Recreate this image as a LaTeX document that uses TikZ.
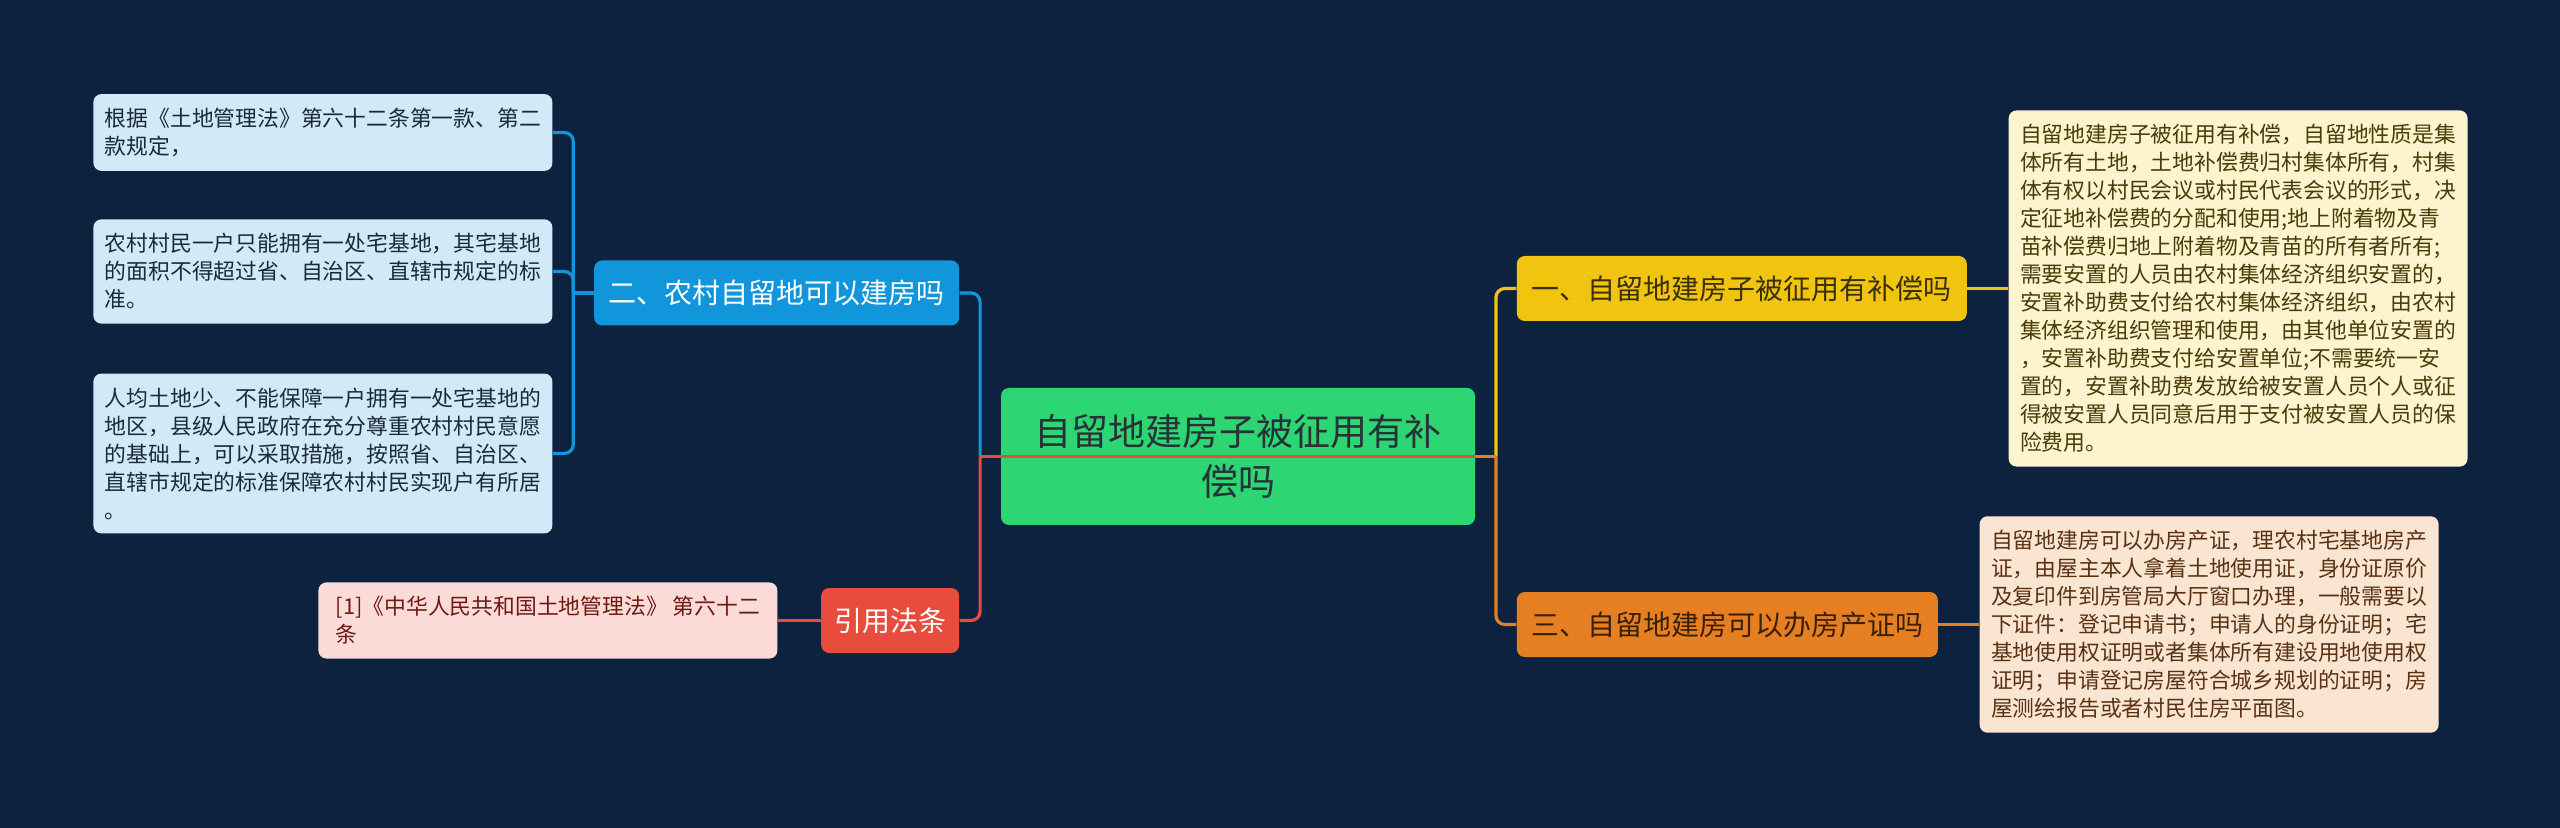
\documentclass[tikz,border=0pt]{standalone}
\usepackage{fontspec}
\newfontfamily\cjk{Noto Sans CJK SC}
\usetikzlibrary{positioning}

\definecolor{bgnavy}{HTML}{0D223F}
\definecolor{rootgreen}{HTML}{2ED573}
\definecolor{roottext}{HTML}{263238}
\definecolor{topicblue}{HTML}{1296DB}
\definecolor{leafblue}{HTML}{D0EAF8}
\definecolor{leafbluetext}{HTML}{1B2A38}
\definecolor{topicred}{HTML}{E74C3C}
\definecolor{leafred}{HTML}{FADBD8}
\definecolor{leafredtext}{HTML}{6E1A12}
\definecolor{topicyellow}{HTML}{F1C40F}
\definecolor{topicyellowtext}{HTML}{3B2F05}
\definecolor{leafyellow}{HTML}{FCF3CF}
\definecolor{leafyellowtext}{HTML}{4A3B08}
\definecolor{topicorange}{HTML}{E67E22}
\definecolor{topicorangetext}{HTML}{3A2105}
\definecolor{leaforange}{HTML}{FAE5D3}
\definecolor{leaforangetext}{HTML}{5A3212}

\begin{document}
\begin{tikzpicture}[
    root/.style={fill=rootgreen, text=roottext, rounded corners=4pt, align=center,
        minimum width=237pt, minimum height=68.5pt, inner sep=0pt,
        font=\cjk\fontsize{18.5pt}{25pt}\selectfont},
    topic/.style={rounded corners=4pt, minimum height=32.5pt, inner sep=0pt,
        font=\cjk\fontsize{14pt}{16pt}\selectfont},
    leaf/.style={rounded corners=4pt, align=left, inner xsep=5.5pt, inner ysep=7pt,
        minimum width=229.5pt, font=\cjk\fontsize{10.9pt}{14pt}\selectfont},
    link/.style={line width=1.6pt, rounded corners=4.5pt},
    node distance=20.5pt
]
\fill[bgnavy] (0,0) rectangle (1280pt,-414pt);
\useasboundingbox (0,0) rectangle (1280pt,-414pt);

\node[root] (central) at (619pt,-228.25pt) {自留地建房子被征用有补\\偿吗};

\node[topic, fill=topicyellow, text=topicyellowtext, minimum width=225pt,
    right=of central, yshift=84pt] (q1) {一、自留地建房子被征用有补偿吗};
\node[topic, fill=topicblue, text=white, minimum width=182.5pt,
    left=of central, yshift=81.75pt] (q2) {二、农村自留地可以建房吗};
\node[topic, fill=topicorange, text=topicorangetext, minimum width=210.5pt,
    right=of central, yshift=-84pt, anchor=west] (q3) {三、自留地建房可以办房产证吗};
\node[topic, fill=topicred, text=white, minimum width=69pt,
    left=of central, yshift=-82pt] (law) {引用法条};

\node[leaf, fill=leafyellow, text=leafyellowtext, right=of q1] (d1)
    {自留地建房子被征用有补偿，自留地性质是集\\体所有土地，土地补偿费归村集体所有，村集\\体有权以村民会议或村民代表会议的形式，决\\定征地补偿费的分配和使用;地上附着物及青\\苗补偿费归地上附着物及青苗的所有者所有;\\需要安置的人员由农村集体经济组织安置的，\\安置补助费支付给农村集体经济组织，由农村\\集体经济组织管理和使用，由其他单位安置的\\，安置补助费支付给安置单位;不需要统一安\\置的，安置补助费发放给被安置人员个人或征\\得被安置人员同意后用于支付被安置人员的保\\险费用。};
\node[leaf, fill=leaforange, text=leaforangetext, right=of q3] (d3)
    {自留地建房可以办房产证，理农村宅基地房产\\证，由屋主本人拿着土地使用证，身份证原价\\及复印件到房管局大厅窗口办理，一般需要以\\下证件：登记申请书；申请人的身份证明；宅\\基地使用权证明或者集体所有建设用地使用权\\证明；申请登记房屋符合城乡规划的证明；房\\屋测绘报告或者村民住房平面图。};
\node[leaf, fill=leafblue, text=leafbluetext, left=of q2, yshift=80.25pt] (a1)
    {根据《土地管理法》第六十二条第一款、第二\\款规定，};
\node[leaf, fill=leafblue, text=leafbluetext, left=of q2, yshift=10.75pt] (a2)
    {农村村民一户只能拥有一处宅基地，其宅基地\\的面积不得超过省、自治区、直辖市规定的标\\准。};
\node[leaf, fill=leafblue, text=leafbluetext, left=of q2, yshift=-80.25pt] (a3)
    {人均土地少、不能保障一户拥有一处宅基地的\\地区，县级人民政府在充分尊重农村村民意愿\\的基础上，可以采取措施，按照省、自治区、\\直辖市规定的标准保障农村村民实现户有所居\\。};
\node[leaf, fill=leafred, text=leafredtext, left=21.5pt of law] (cite)
    {[1]《中华人民共和国土地管理法》 第六十二\\条};

\coordinate (lfork) at ([xshift=-10.25pt]central.west);
\coordinate (rfork) at ([xshift=10.25pt]central.east);
\coordinate (q2fork) at ([xshift=-10.25pt]q2.west);

\draw[link, topicblue] (lfork) |- (q2.east);
\draw[link, topicred] (lfork) |- (law.east);
\draw[link, topicyellow] (rfork) |- (q1.west);
\draw[link, topicorange] (rfork) |- (q3.west);
\draw[link, topicorange] (central.east) -- (rfork);
\draw[link, topicred] (central.east) -- (lfork);

\draw[link, topicblue] (q2.west) -- (q2fork);
\foreach \leafname in {a1,a2,a3}
    \draw[link, topicblue] (\leafname.east) -| (q2fork);
\draw[link, topicyellow] (q1.east) -- (d1.west);
\draw[link, topicorange] (q3.east) -- (d3.west);
\draw[link, topicred] (law.west) -- (cite.east);
\end{tikzpicture}
\end{document}
